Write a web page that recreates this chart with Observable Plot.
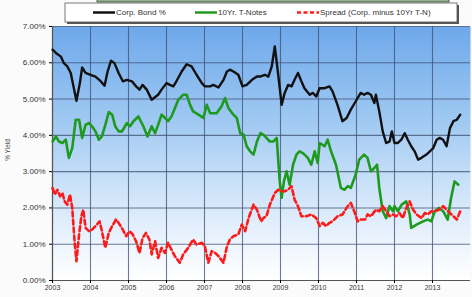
<!DOCTYPE html>
<html><head><meta charset="utf-8">
<script src="https://cdn.jsdelivr.net/npm/d3@7"></script>
<script src="https://cdn.jsdelivr.net/npm/@observablehq/plot@0.6"></script>
<style>body{margin:0;background:#fff;font-family:"Liberation Sans",Arial,sans-serif}</style>
</head><body><div id="chart"></div>
<script>
// Corp. Bond % (time in fractional years, value in %)
const corpT = [2003.00,2003.09,2003.22,2003.30,2003.39,2003.48,2003.57,2003.63,2003.72,2003.78,2003.87,2004.00,2004.13,2004.26,2004.37,2004.45,2004.54,2004.63,2004.74,2004.85,2004.96,2005.09,2005.20,2005.29,2005.37,2005.48,2005.61,2005.72,2005.78,2005.87,2006.00,2006.09,2006.18,2006.26,2006.40,2006.53,2006.66,2006.79,2006.93,2007.01,2007.15,2007.23,2007.37,2007.50,2007.59,2007.67,2007.76,2007.89,2008.00,2008.11,2008.25,2008.38,2008.46,2008.59,2008.68,2008.77,2008.85,2008.94,2009.03,2009.11,2009.20,2009.29,2009.37,2009.46,2009.55,2009.63,2009.77,2009.85,2009.94,2010.03,2010.16,2010.29,2010.37,2010.50,2010.63,2010.74,2010.85,2010.98,2011.11,2011.20,2011.29,2011.38,2011.47,2011.51,2011.60,2011.69,2011.78,2011.87,2011.93,2012.00,2012.09,2012.18,2012.27,2012.35,2012.44,2012.53,2012.62,2012.71,2012.84,2012.93,2013.02,2013.11,2013.19,2013.28,2013.37,2013.46,2013.55,2013.64,2013.73];
const corpV = [6.36,6.27,6.17,5.99,5.90,5.72,5.26,4.95,5.44,5.87,5.72,5.67,5.62,5.50,5.37,5.76,6.06,5.99,5.72,5.49,5.53,5.49,5.35,5.26,5.39,5.26,4.98,5.07,5.12,5.26,5.44,5.39,5.35,5.49,5.76,5.96,5.90,5.67,5.44,5.35,5.35,5.39,5.32,5.53,5.76,5.81,5.76,5.67,5.35,5.39,5.53,5.62,5.62,5.67,5.62,5.90,6.45,5.67,4.84,5.17,5.39,5.35,5.53,5.72,5.49,5.30,5.12,5.17,5.07,5.30,5.30,5.35,5.21,4.84,4.39,4.48,4.71,4.94,5.17,5.12,5.17,5.12,4.89,5.12,4.66,4.11,3.79,3.83,4.11,3.79,3.79,3.88,4.06,3.88,3.70,3.56,3.33,3.38,3.47,3.56,3.65,3.88,3.93,3.88,3.70,4.20,4.39,4.43,4.57];

// 10Yr. T-Notes
const tnT = [2003.00,2003.09,2003.17,2003.26,2003.35,2003.43,2003.52,2003.61,2003.70,2003.78,2003.87,2003.96,2004.04,2004.13,2004.22,2004.30,2004.39,2004.48,2004.57,2004.65,2004.74,2004.83,2004.96,2005.04,2005.13,2005.26,2005.39,2005.50,2005.61,2005.70,2005.78,2005.87,2005.96,2006.04,2006.13,2006.22,2006.31,2006.44,2006.53,2006.62,2006.70,2006.84,2006.97,2007.06,2007.15,2007.23,2007.32,2007.45,2007.54,2007.63,2007.76,2007.85,2007.94,2008.03,2008.11,2008.20,2008.29,2008.38,2008.47,2008.55,2008.63,2008.72,2008.81,2008.90,2008.98,2009.03,2009.09,2009.16,2009.24,2009.33,2009.42,2009.50,2009.59,2009.72,2009.81,2009.90,2009.98,2010.03,2010.16,2010.24,2010.33,2010.46,2010.59,2010.68,2010.77,2010.85,2010.98,2011.07,2011.20,2011.29,2011.38,2011.47,2011.54,2011.60,2011.69,2011.78,2011.87,2011.96,2012.00,2012.09,2012.19,2012.31,2012.40,2012.44,2012.58,2012.75,2012.88,2012.97,2013.06,2013.17,2013.28,2013.40,2013.49,2013.58,2013.68];
const tnV = [3.83,3.97,3.83,3.79,3.88,3.38,3.65,4.43,4.43,3.93,4.29,4.34,4.25,4.11,3.88,3.97,4.29,4.64,4.57,4.25,4.11,4.11,4.34,4.25,4.39,4.52,4.25,3.97,4.25,4.06,4.29,4.57,4.48,4.39,4.52,4.75,4.98,5.12,5.12,4.84,4.66,4.57,4.48,4.84,4.61,4.61,4.61,4.80,5.03,4.75,4.57,4.48,4.06,4.02,3.70,3.56,3.47,3.83,4.06,4.02,3.93,3.83,3.83,3.93,2.73,2.28,2.73,3.01,2.64,3.19,3.47,3.56,3.51,3.38,3.19,3.56,3.24,3.79,3.70,3.88,3.56,3.19,2.55,2.50,2.60,2.55,2.92,3.33,3.47,3.38,3.01,3.10,3.19,2.55,1.91,1.72,2.05,1.91,2.05,1.91,2.09,2.18,1.82,1.45,1.54,1.63,1.68,1.63,1.91,2.00,1.91,1.68,2.28,2.73,2.64];

// Spread (Corp. minus 10Yr T-N)
const spT = [2003.00,2003.06,2003.13,2003.20,2003.26,2003.32,2003.39,2003.46,2003.52,2003.58,2003.63,2003.70,2003.76,2003.81,2003.87,2003.96,2004.04,2004.13,2004.24,2004.30,2004.39,2004.48,2004.57,2004.67,2004.74,2004.85,2004.94,2005.03,2005.11,2005.20,2005.29,2005.37,2005.46,2005.55,2005.61,2005.70,2005.78,2005.87,2005.96,2006.04,2006.13,2006.22,2006.35,2006.44,2006.57,2006.70,2006.79,2006.93,2007.01,2007.10,2007.19,2007.28,2007.37,2007.50,2007.59,2007.67,2007.76,2007.89,2007.98,2008.07,2008.16,2008.29,2008.38,2008.49,2008.55,2008.63,2008.72,2008.85,2008.94,2009.03,2009.11,2009.20,2009.29,2009.37,2009.46,2009.55,2009.68,2009.81,2009.94,2010.03,2010.11,2010.20,2010.29,2010.37,2010.50,2010.63,2010.77,2010.85,2010.94,2011.03,2011.11,2011.23,2011.29,2011.38,2011.51,2011.60,2011.69,2011.78,2011.87,2011.96,2012.04,2012.13,2012.22,2012.31,2012.40,2012.49,2012.58,2012.71,2012.80,2012.88,2012.97,2013.06,2013.17,2013.28,2013.37,2013.46,2013.55,2013.64,2013.73];
const spV = [2.55,2.37,2.50,2.32,2.41,2.18,2.09,2.37,2.00,1.08,0.53,1.27,1.77,1.95,1.45,1.36,1.40,1.50,1.63,1.36,0.90,1.31,1.50,1.68,1.59,1.40,1.22,1.36,1.27,1.08,0.76,1.17,1.31,1.13,0.72,1.08,0.62,0.90,0.76,1.04,0.85,0.67,0.49,0.72,0.90,1.13,0.99,1.04,0.94,0.49,0.81,0.76,0.67,0.49,0.94,1.13,1.22,1.27,1.54,1.36,1.72,2.09,1.95,1.63,1.72,1.77,2.09,2.41,2.50,2.46,2.46,2.50,2.60,2.23,2.05,1.77,1.77,1.82,1.72,1.50,1.59,1.50,1.59,1.63,1.77,1.82,2.05,2.14,1.91,1.63,1.68,1.68,1.82,1.77,1.95,1.91,2.05,1.91,1.77,1.82,1.77,1.86,1.72,2.00,2.18,1.95,1.82,1.72,1.86,1.82,1.91,1.91,1.95,2.05,1.95,1.86,1.77,1.68,1.91];

const yearTicks = [2003,2004,2005,2006,2007,2008,2009,2010,2011,2012,2013];
const yTicks = [0,1,2,3,4,5,6,7];
const seriesNames = ["Corp. Bond %","10Yr. T-Notes","Spread (Corp. minus 10Yr T-N)"];

const corp = corpT.map((t,i)=>({t, v: corpV[i]}));
const tn = tnT.map((t,i)=>({t, v: tnV[i]}));
const sp = spT.map((t,i)=>({t, v: spV[i]}));

const FONT = "Liberation Sans, Arial, sans-serif";

function defsMark() {
  const d = d3.create("svg:defs");
  const lg = d.append("linearGradient").attr("id","bgGrad").attr("x1",0).attr("y1",0).attr("x2",0).attr("y2",1);
  [["0%","#6ea8ea"],["35%","#9cc7f2"],["65%","#cfe4f9"],["90%","#f3f8fe"],["100%","#ffffff"]]
    .forEach(([o,c])=>lg.append("stop").attr("offset",o).attr("stop-color",c));
  return d.node();
}

function legendMark() {
  const g = d3.create("svg:g").attr("font-family", FONT).attr("font-size", 8).attr("fill","#333").attr("text-anchor","start");
  // top bar (cut-off title strip)
  g.append("rect").attr("x",97).attr("y",-2).attr("width",352).attr("height",4).attr("fill","#8db48a").attr("stroke","#444").attr("stroke-width",0.8);
  // shadow
  g.append("rect").attr("x",67).attr("y",5).attr("width",392).attr("height",19).attr("fill","#555");
  g.append("rect").attr("x",65).attr("y",3).attr("width",392).attr("height",19).attr("fill","#fff").attr("stroke","#555").attr("stroke-width",0.8);
  const items = [
    {x:93, stroke:"#111", dash:null},
    {x:195, stroke:"#1e9a1e", dash:null},
    {x:297, stroke:"#ff1a1a", dash:"4,2.5"}
  ];
  items.forEach((it,i)=>{
    const l = g.append("line").attr("x1",it.x).attr("x2",it.x+22).attr("y1",12.5).attr("y2",12.5)
      .attr("stroke",it.stroke).attr("stroke-width",2.5);
    if (it.dash) l.attr("stroke-dasharray", it.dash);
    g.append("text").attr("x",it.x+23).attr("y",12.5).attr("dy","0.35em").attr("text-anchor","start").text(seriesNames[i]);
  });
  // y label
  g.append("text").attr("transform","translate(10,150) rotate(-90)").attr("text-anchor","middle")
    .attr("font-size",6.5).attr("fill","#444").text("% Yield");
  return g.node();
}

const chart = Plot.plot({
  width: 472,
  height: 297,
  marginLeft: 52,
  marginRight: 2,
  marginTop: 26,
  marginBottom: 17,
  style: {background: "#fbfbfb", fontFamily: FONT},
  x: {domain: [2003, 2014]},
  y: {domain: [0, 7]},
  marks: [
    defsMark,
    Plot.frame({fill: "url(#bgGrad)", stroke: null}),
    Plot.gridX(yearTicks, {stroke: "#3e4f70", strokeOpacity: 0.75, strokeWidth: 1.1}),
    Plot.gridY(yTicks, {stroke: "#3e4f70", strokeOpacity: 0.75, strokeWidth: 1.1}),
    Plot.ruleX([2003], {stroke: "#555", strokeWidth: 1.2}),
    Plot.ruleY([0], {stroke: "#555", strokeWidth: 1.2}),
    Plot.line(corp, {x: "t", y: "v", stroke: "#111", strokeWidth: 2.4, curve: "linear"}),
    Plot.line(tn, {x: "t", y: "v", stroke: "#1e9a1e", strokeWidth: 2.6, curve: "linear"}),
    Plot.line(sp, {x: "t", y: "v", stroke: "#ff1a1a", strokeWidth: 2.6, strokeDasharray: "5,3", curve: "linear"}),
    Plot.axisY(yTicks, {tickFormat: d => d.toFixed(2) + "%", tickSize: 3, tickPadding: 4, fontSize: 8, fill: "#333", label: null}),
    Plot.axisX(yearTicks, {tickFormat: d => String(d), tickSize: 3, tickPadding: 2, fontSize: 7, fill: "#333", label: null}),
    legendMark
  ]
});
document.getElementById("chart").appendChild(chart);
</script>
</body></html>
